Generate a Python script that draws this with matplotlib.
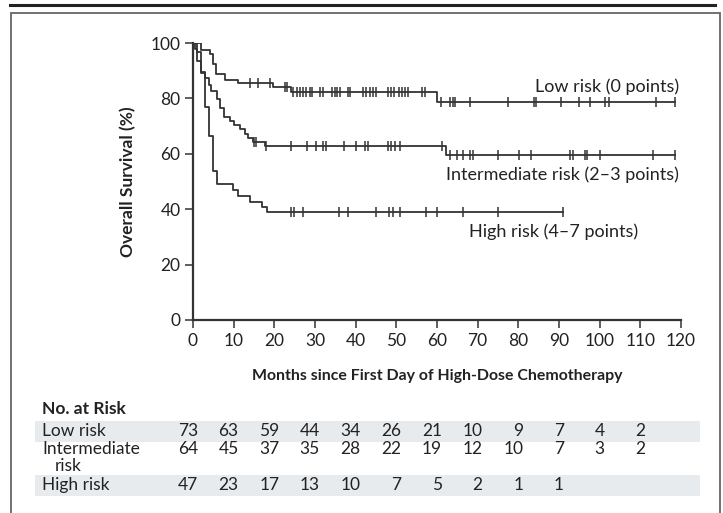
import matplotlib
matplotlib.use("Agg")
import matplotlib.pyplot as plt
from matplotlib.patches import Rectangle
from matplotlib.lines import Line2D

plt.rcParams["font.family"] = ["Lato", "DejaVu Sans"]

# Kaplan-Meier steps (months, % surviving)
low_t = [0, 2.0, 4.3, 4.9, 5.7, 7.8, 11.1, 19.7, 24.2, 60.1]
low_s = [100, 97.3, 95.9, 92.5, 88.8, 86.8, 85.5, 84.2, 82.4, 78.6]
low_cens = [14.0, 16.0, 18.9, 22.5, 23.1, 24.6, 25.5, 26.3, 27.1, 27.9, 28.7, 29.3,
            31.2, 31.9, 34.1, 34.9, 35.5, 36.1, 38.2, 38.7, 41.8, 42.5, 43.5, 44.3,
            45.1, 48.0, 48.8, 49.4, 50.7, 51.3, 52.1, 52.9, 56.2, 57.0, 61.1, 63.1,
            63.9, 64.5, 68.2, 77.5, 83.8, 84.4, 90.6, 94.8, 97.5, 101.4, 102.3,
            113.9, 118.6]

mid_t = [0, 1.0, 2.0, 2.9, 3.9, 4.5, 6.0, 6.6, 7.5, 9.0, 10.2, 11.5, 12.7, 13.5, 14.8, 17.6, 62.1]
mid_s = [100, 96.9, 89.1, 87.5, 85.0, 82.8, 79.7, 76.6, 73.4, 71.9, 70.3, 68.8, 67.2,
         65.6, 64.1, 62.8, 59.5]
mid_cens = [15.0, 15.6, 17.9, 24.1, 28.1, 30.2, 32.0, 32.8, 37.1, 40.0, 42.4, 43.1,
            48.0, 48.8, 49.6, 50.9, 61.3, 63.1, 64.8, 66.4, 68.2, 68.9, 75.0, 80.2,
            83.2, 92.6, 93.4, 96.5, 97.0, 100.2, 113.1, 118.6]

high_t = [0, 0.4, 1.0, 2.0, 2.9, 3.9, 4.9, 5.8, 9.9, 11.1, 14.0, 16.9, 18.1]
high_s = [100, 97.9, 93.6, 89.4, 77.0, 66.3, 53.8, 49.2, 46.8, 44.7, 42.6, 40.8, 38.9]
high_cens = [24.2, 24.9, 27.1, 36.0, 38.2, 45.1, 48.2, 49.1, 51.0, 57.2, 60.0, 66.3,
             75.0, 91.1]

# numbers at risk
risk_months = [0, 10, 20, 30, 40, 50, 60, 70, 80, 90, 100, 110]
low_n = [73, 63, 59, 44, 34, 26, 21, 10, 9, 7, 4, 2]
mid_n = [64, 45, 37, 35, 28, 22, 19, 12, 10, 7, 3, 2]
high_n = [47, 23, 17, 13, 10, 7, 5, 2, 1, 1]

W, H = 723, 513
fig = plt.figure(figsize=(W / 100, H / 100), dpi=100)
txt = "#222222"
ink = "#333333"
fs = 12.5

# frame and top rule
fig.add_artist(Line2D([10 / W, 715 / W], [1 - 5 / H, 1 - 5 / H], color="#222222", lw=2.2))
fig.add_artist(Rectangle((11 / W, -0.05), 709 / W, 1.05 - 13 / H, fill=False,
                         edgecolor="#666666", lw=1.3))

ax = fig.add_axes([193 / W, 1 - 320 / H, 488 / W, 277 / H])


def km(t, s, cens):
    tt = t + [max(cens)]
    ss = s + [s[-1]]
    ax.step(tt, ss, where="post", color=ink, lw=1.3)
    ys = []
    for c in cens:
        k = max(i for i in range(len(t)) if t[i] <= c)
        ys.append(s[k])
    ax.plot(cens, ys, ls="none", marker="|", ms=7, mew=1.1, color=ink)


km(low_t, low_s, low_cens)
km(mid_t, mid_s, mid_cens)
km(high_t, high_s, high_cens)

ax.set_xlim(0, 120)
ax.set_ylim(0, 100)
ax.set_xticks(range(0, 121, 10))
ax.set_yticks(range(0, 101, 20))
for side in ["top", "right"]:
    ax.spines[side].set_visible(False)
for side in ["left", "bottom"]:
    ax.spines[side].set_linewidth(1.6)
    ax.spines[side].set_color(ink)
ax.tick_params(length=6, width=1.1, color=ink, labelsize=fs, labelcolor=txt, pad=3)
ax.set_ylabel("Overall Survival (%)", fontsize=fs, fontweight="bold", labelpad=10, color=txt)
ax.set_xlabel("Months since First Day of High-Dose Chemotherapy", fontsize=11.4,
              fontweight="bold", labelpad=15, color=txt)

ax.text(119.5, 84.3, "Low risk (0 points)", ha="right", va="center", fontsize=13, color=txt)
ax.text(119.5, 52.3, "Intermediate risk (2\u20133 points)", ha="right", va="center",
        fontsize=13, color=txt)
ax.text(67.8, 31.8, "High risk (4\u20137 points)", ha="left", va="center", fontsize=13,
        color=txt)

# at-risk table
fig.text(42 / W, 1 - 409 / H, "No. at Risk", fontsize=fs, fontweight="bold", va="center",
         color=txt)
for y0, y1 in [(421, 442), (475, 496)]:
    fig.add_artist(Rectangle((35 / W, 1 - y1 / H), 665 / W, (y1 - y0) / H,
                             facecolor="#e8ebee", edgecolor="none", zorder=0))
fig.text(42 / W, 1 - 431 / H, "Low risk", fontsize=fs, va="center", color=txt)
fig.text(42 / W, 1 - 449 / H, "Intermediate", fontsize=fs, va="center", color=txt)
fig.text(55 / W, 1 - 466 / H, "risk", fontsize=fs, va="center", color=txt)
fig.text(42 / W, 1 - 485 / H, "High risk", fontsize=fs, va="center", color=txt)
for ny, counts in zip([431, 449, 485], [low_n, mid_n, high_n]):
    for m, n in zip(risk_months, counts):
        xp = ax.transData.transform((m, 0))[0] + 5
        fig.text(xp / W, 1 - ny / H, str(n), fontsize=fs, ha="right", va="center", color=txt)

fig.savefig("out.png", dpi=100)
